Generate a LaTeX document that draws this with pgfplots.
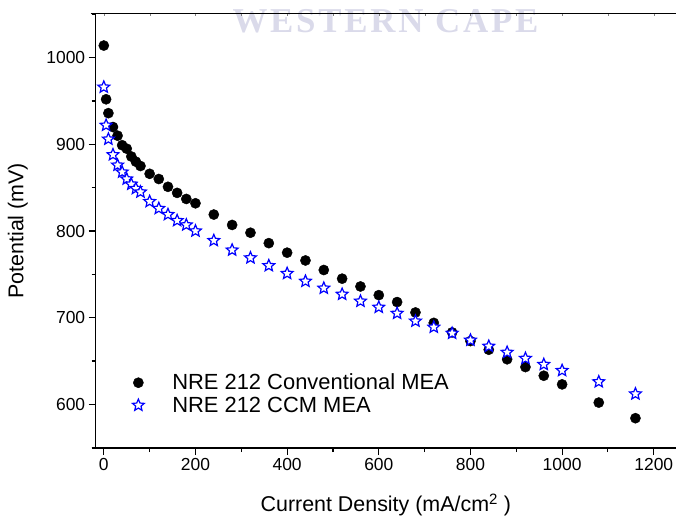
\documentclass[border=0pt]{standalone}
\usepackage{pgfplots}
\pgfplotsset{compat=1.18}
\usepackage{pgfplotstable}
\usepackage{fontspec}
\setmainfont{Liberation Sans}
\newfontfamily\wmfont[LetterSpace=8]{Liberation Serif}
\definecolor{wm}{RGB}{218,218,234}
\definecolor{ccmblue}{RGB}{0,0,255}

\pgfdeclareplotmark{ostar}{%
  \pgfpathmoveto{\pgfpointpolar{90}{\pgfplotmarksize}}%
  \pgfpathlineto{\pgfpointpolar{126}{0.45\pgfplotmarksize}}%
  \pgfpathlineto{\pgfpointpolar{162}{\pgfplotmarksize}}%
  \pgfpathlineto{\pgfpointpolar{198}{0.45\pgfplotmarksize}}%
  \pgfpathlineto{\pgfpointpolar{234}{\pgfplotmarksize}}%
  \pgfpathlineto{\pgfpointpolar{270}{0.45\pgfplotmarksize}}%
  \pgfpathlineto{\pgfpointpolar{306}{\pgfplotmarksize}}%
  \pgfpathlineto{\pgfpointpolar{342}{0.45\pgfplotmarksize}}%
  \pgfpathlineto{\pgfpointpolar{18}{\pgfplotmarksize}}%
  \pgfpathlineto{\pgfpointpolar{54}{0.45\pgfplotmarksize}}%
  \pgfpathclose
  \pgfusepathqfillstroke}

\pgfplotstableread{
x y
0 1014
5 952
10 936
20 920
30 910
40 899
50 895
60 886
70 880
80 875
100 866
120 860
140 851
160 844
180 837
200 832
240 819
280 807
320 798
360 786
400 775
440 766
480 755
520 745
560 736
600 726
640 718
680 706
720 694
760 683
800 673
840 663
880 652
920 643
960 633
1000 623
1080 602
1160 584
}\conv

\pgfplotstableread{
x y
0 966
5 922
10 906
20 888
30 876
40 868
50 860
60 854
70 849
80 845
100 834
120 826
140 819
160 812
180 807
200 800
240 789
280 778
320 769
360 760
400 751
440 742
480 734
520 727
560 719
600 712
640 705
680 696
720 689
760 682
800 674
840 667
880 660
920 653
960 646
1000 639
1080 626
1160 612
}\ccm

\begin{document}
\begin{tikzpicture}
\pgfplotsset{
  myaxis/.style={
    scale only axis,
    width=580.3bp, height=434.5bp,
    xmin=-17.7, xmax=1248.5,
    ymin=549.6, ymax=1051,
  }
}
% top axis line with small ticks and the watermark
\begin{axis}[myaxis,
  axis on top,
  axis x line*=top,
  axis y line=none,
  xtick={0,100,...,1200},
  xticklabels={},
  tick align=inside,
  major tick length=2.5bp,
  axis line style={line width=1.1bp, shorten <=-5bp},
  clip=false,
]
\node[font=\wmfont\bfseries\fontsize{35}{35}\selectfont, text=wm, inner sep=0pt, anchor=center]
  at (rel axis cs:0.4994,0.9811) {WESTERN CAPE};
\end{axis}

\begin{axis}[myaxis,
  axis x line*=bottom,
  axis y line*=left,
  axis line style={line width=1.1bp},
  x axis line style={shorten <=-4bp},
  tick style={line width=1.1bp, black},
  tick align=outside,
  major tick length=7bp,
  minor tick length=4bp,
  xtick={0,200,...,1200},
  minor xtick={100,300,...,1100},
  ytick={600,700,...,1000},
  minor ytick={550,650,...,1050},
  /pgf/number format/assume math mode=true,
  /pgf/number format/1000 sep={},
  ticklabel style={font=\fontsize{17.5}{20}\selectfont},
  xlabel={Current Density (mA/cm\textsuperscript{2} )},
  ylabel={Potential (mV)},
  label style={font=\fontsize{21.5}{24}\selectfont},
  xlabel style={at={(axis description cs:0.5,-0.131)}, anchor=center},
  ylabel style={at={(axis description cs:-0.134,0.5)}, anchor=center},
  legend style={draw=none, fill=none, inner sep=0pt,
    at={(rel axis cs:0.063,0.173)}, anchor=north west,
    font=\fontsize{22}{24}\selectfont, row sep=3.5bp,
    nodes={inner sep=1bp}},
  legend cell align=left,
  legend image code/.code={\draw[mark repeat=2,mark phase=2,#1] plot coordinates {(0bp,0bp) (5bp,0bp) (10bp,0bp)};},
  clip=false,
]
\coordinate (ll) at (rel axis cs:0,0);
\coordinate (ur) at (rel axis cs:1,1);
\addplot[only marks, mark=*, mark size=5.1bp, black, fill=black] table[x=x,y=y] {\conv};
\addlegendentry{\hspace{27bp}NRE 212 Conventional MEA}
\addplot[only marks, mark=ostar, mark size=6.2bp, ccmblue, line width=1.2bp, fill=white] table[x=x,y=y] {\ccm};
\addlegendentry{\hspace{27bp}NRE 212 CCM MEA}
\end{axis}
\pgfresetboundingbox
\path ([shift={(-95.7bp,-69bp)}]ll) rectangle ([shift={(0bp,13.5bp)}]ur);
\end{tikzpicture}
\end{document}
